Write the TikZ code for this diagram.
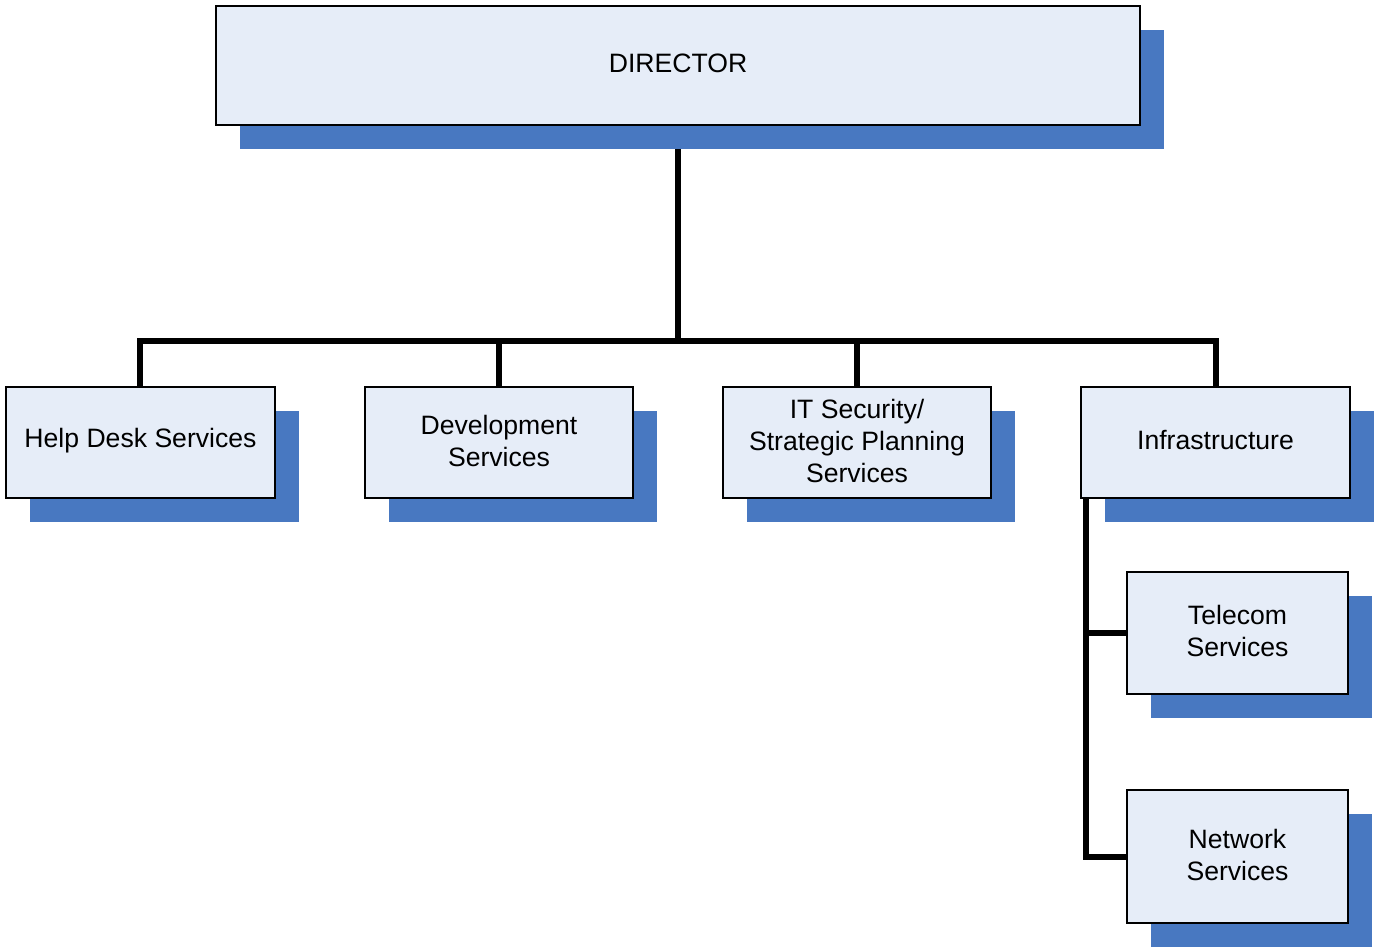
\documentclass[tikz,border=0pt]{standalone}
\usepackage{fontspec}
\setmainfont{Liberation Sans}
\definecolor{boxfill}{HTML}{E6EDF8}
\definecolor{shadowblue}{HTML}{4878C1}
\begin{document}
\begin{tikzpicture}[x=1pt,y=-1pt,
  orgbox/.style={draw=black,line width=1.1pt,fill=boxfill,inner sep=0pt},
  orgtext/.style={align=center,inner sep=0pt,font=\fontsize{26.6}{32}\selectfont},
  conn/.style={line width=5.5pt,black}]
\useasboundingbox (0,0) rectangle (1380,947);
\newcommand{\orgbox}[6]{%
  \fill[shadowblue] (#2+24,#3+24) rectangle (#4+24,#5+24);
  \node[orgbox,minimum width=#4-#2,minimum height=#5-#3] (#1) at ({(#2+#4)/2},{(#3+#5)/2}) {};
  \node[orgtext] (#1-text) at ([yshift=2pt]#1.center) {#6};
}
\orgbox{dir}{216}{6}{1140}{125}{DIRECTOR}
\orgbox{help}{6}{387}{275}{498}{Help Desk Services}
\orgbox{dev}{365}{387}{633}{498}{Development\\Services}
\orgbox{its}{723}{387}{991}{498}{IT Security/\\Strategic Planning\\Services}
\orgbox{inf}{1081}{387}{1350}{498}{Infrastructure}
\orgbox{tel}{1127}{572}{1348}{694}{Telecom\\Services}
\orgbox{net}{1127}{790}{1348}{923}{Network\\Services}
\coordinate (dirbase) at (678,149);
\coordinate (bus) at (678,341);
\coordinate (busL) at (140,341);
\coordinate (busR) at (1216,341);
\coordinate (ivtop) at (1086,498);
\coordinate (ivbot) at (1086,857);
\draw[conn] (dirbase) -- (bus);
\draw[conn,line cap=rect] (busL) -- (busR);
\draw[conn] (busL) -- (help.north -| busL);
\draw[conn] (bus -| dev.north) -- (dev.north);
\draw[conn] (bus -| its.north) -- (its.north);
\draw[conn] (busR) -- (inf.north -| busR);
\draw[conn] (ivtop) -- (ivbot) -- (ivbot -| net.west);
\draw[conn] (ivtop |- tel.west) -- (tel.west);
\end{tikzpicture}
\end{document}
